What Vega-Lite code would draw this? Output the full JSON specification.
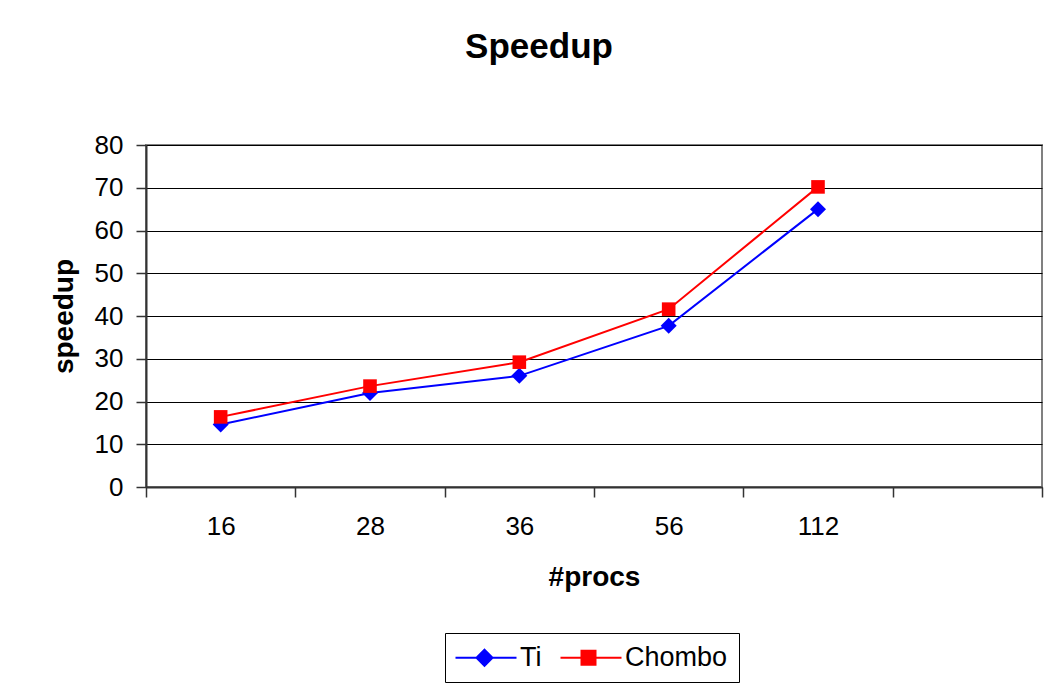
{
  "$schema": "https://vega.github.io/schema/vega-lite/v6.json",
  "width": 896,
  "height": 342,
  "autosize": "none",
  "padding": {"left": 146, "top": 145, "right": 4, "bottom": 204},
  "background": "white",
  "title": {
    "text": "Speedup",
    "font": "Liberation Sans",
    "fontSize": 35,
    "fontWeight": "bold",
    "color": "black",
    "anchor": "middle",
    "dx": -55,
    "baseline": "alphabetic",
    "offset": 39
  },
  "config": {
    "font": "Liberation Sans",
    "view": {"stroke": "#808080", "strokeWidth": 2}
  },
  "data": {
    "values": [
      {"procs": "16", "series": "Ti", "speedup": 14.6},
      {"procs": "28", "series": "Ti", "speedup": 22.0},
      {"procs": "36", "series": "Ti", "speedup": 26.0},
      {"procs": "56", "series": "Ti", "speedup": 37.7},
      {"procs": "112", "series": "Ti", "speedup": 65.0},
      {"procs": "16", "series": "Chombo", "speedup": 16.4},
      {"procs": "28", "series": "Chombo", "speedup": 23.6},
      {"procs": "36", "series": "Chombo", "speedup": 29.2},
      {"procs": "56", "series": "Chombo", "speedup": 41.6},
      {"procs": "112", "series": "Chombo", "speedup": 70.2}
    ]
  },
  "encoding": {
    "x": {
      "field": "procs",
      "type": "ordinal",
      "bandPosition": 0.5,
      "scale": {"type": "band", "domain": ["16", "28", "36", "56", "112", " "], "paddingInner": 0, "paddingOuter": 0},
      "axis": {
        "title": "#procs",
        "titleFontSize": 28,
        "titleFontWeight": "bold",
        "titleColor": "black",
        "titlePadding": 24,
        "labelFontSize": 26,
        "labelColor": "black",
        "labelAngle": 0,
        "labelPadding": 16,
        "tickBand": "extent",
        "tickSize": 10,
        "tickColor": "#333333",
        "tickWidth": 1.5,
        "domainColor": "#333333",
        "domainWidth": 2,
        "grid": false
      }
    },
    "y": {
      "field": "speedup",
      "type": "quantitative",
      "scale": {"domain": [0, 80], "nice": false},
      "axis": {
        "title": "speedup",
        "titleFontSize": 28,
        "titleFontWeight": "bold",
        "titleColor": "black",
        "titlePadding": 16,
        "values": [0, 10, 20, 30, 40, 50, 60, 70, 80],
        "labelFontSize": 26,
        "labelColor": "black",
        "labelPadding": 13,
        "tickSize": 10,
        "tickColor": "#333333",
        "tickWidth": 1.5,
        "domainColor": "#333333",
        "domainWidth": 2,
        "grid": true,
        "gridColor": "black",
        "gridWidth": 1
      }
    },
    "color": {
      "field": "series",
      "type": "nominal",
      "scale": {"domain": ["Ti", "Chombo"], "range": ["#0000ff", "#ff0000"]},
      "legend": {
        "orient": "none",
        "legendX": 299,
        "legendY": 488,
        "direction": "horizontal",
        "title": null,
        "labelFontSize": 27,
        "labelColor": "black",
        "symbolSize": 400,
        "labelOffset": 37,
        "columnPadding": 14,
        "padding": 11,
        "strokeColor": "black",
        "symbolStrokeWidth": 2,
        "encode": {
          "symbols": {
            "update": {
              "shape": {"signal": "datum.value === 'Ti' ? 'M-1.4,0L4.7,0M1.5,-0.8L2.3,0L1.5,0.8L0.7,0Z' : 'M-1.4,0L4.7,0M0.7,-0.7L2.1,-0.7L2.1,0.7L0.7,0.7Z'"},
              "fill": {"signal": "datum.value === 'Ti' ? '#0000ff' : '#ff0000'"},
              "stroke": {"signal": "datum.value === 'Ti' ? '#0000ff' : '#ff0000'"},
              "strokeWidth": {"value": 2},
              "opacity": {"value": 1},
              "size": {"value": 400}
            }
          }
        }
      }
    }
  },
  "layer": [
    {
      "mark": {"type": "line", "strokeWidth": 2}
    },
    {
      "transform": [{"filter": "datum.series === 'Ti'"}],
      "mark": {"type": "point", "filled": true, "size": 256, "opacity": 1, "strokeWidth": 0, "shape": "M0,-1L1,0L0,1L-1,0Z"}
    },
    {
      "transform": [{"filter": "datum.series === 'Chombo'"}],
      "mark": {"type": "point", "filled": true, "size": 256, "opacity": 1, "strokeWidth": 0, "shape": "M-0.85,-0.85L0.85,-0.85L0.85,0.85L-0.85,0.85Z"}
    }
  ]
}
